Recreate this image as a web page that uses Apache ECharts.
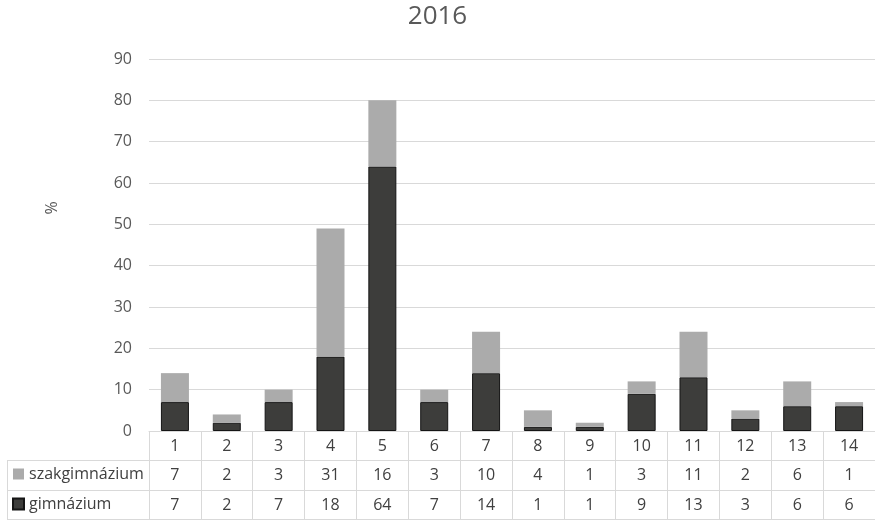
<!DOCTYPE html>
<html>
<head>
<meta charset="utf-8">
<script src="https://cdn.jsdelivr.net/npm/echarts@6/dist/echarts.min.js"></script>
<style>html,body{margin:0;padding:0;background:#fff;}#c{width:875px;height:520px;}</style>
</head>
<body>
<div id="c"></div>
<script>
var title = '2016';
var categories = ['1','2','3','4','5','6','7','8','9','10','11','12','13','14'];
var szakName = 'szakgimnázium';
var gimnName = 'gimnázium';
var szakValues = [7, 2, 3, 31, 16, 3, 10, 4, 1, 3, 11, 2, 6, 1];
var gimnValues = [7, 2, 7, 18, 64, 7, 14, 1, 1, 9, 13, 3, 6, 6];
var yTicks = {min: 0, max: 90, interval: 10};
var yName = '%';

var font = 'Open Sans';
var lineC = '#d9d9d9';
var txtC = '#404040';

var chart = echarts.init(document.getElementById('c'), null, {renderer: 'canvas'});

function tableAxis(offset, values, showLabel) {
  return {
    type: 'category', data: categories, gridIndex: 0, position: 'bottom', offset: offset,
    boundaryGap: true,
    axisLine: {show: true, lineStyle: {color: lineC, width: 1}},
    axisTick: {show: false},
    axisLabel: {show: showLabel, interval: 0, margin: 5, fontFamily: font, fontSize: 16, lineHeight: 20, color: txtC,
      formatter: function (v, i) { return values ? String(values[i]) : v; }},
    splitLine: {show: false}
  };
}

var mainX = tableAxis(0, null, true);
mainX.axisTick = {show: true, interval: 0, inside: false, length: 88, lineStyle: {color: lineC, width: 1}};

chart.setOption({
  animation: false,
  backgroundColor: '#fff',
  title: {text: title, left: 'center', top: 2, padding: 0,
    textStyle: {fontFamily: font, fontSize: 26, fontWeight: 'normal', color: '#595959', lineHeight: 30}},
  legend: {
    data: [szakName, gimnName], orient: 'vertical', left: 12, top: 466, height: 54, padding: 0,
    itemWidth: 11, itemHeight: 11, itemGap: 14, icon: 'rect',
    textStyle: {fontFamily: font, fontSize: 16, color: txtC, lineHeight: 16},
    selectedMode: false
  },
  grid: {left: 149, width: 728, top: 59, bottom: 89, containLabel: false},
  xAxis: [
    mainX,
    tableAxis(29, szakValues, true),
    tableAxis(59, gimnValues, true),
    tableAxis(88, null, false)
  ],
  yAxis: {
    type: 'value', min: yTicks.min, max: yTicks.max, interval: yTicks.interval,
    axisLine: {show: false}, axisTick: {show: false},
    axisLabel: {margin: 17, fontFamily: font, fontSize: 16, color: '#595959'},
    splitLine: {lineStyle: {color: lineC, width: 1}}
  },
  graphic: [
    {type: 'text', x: 52, y: 208, rotation: Math.PI / 2,
      style: {text: yName, font: '16px "Open Sans"', fill: '#595959', align: 'center', verticalAlign: 'middle'}},
    {type: 'line', shape: {x1: 7, y1: 460.5, x2: 149, y2: 460.5}, style: {stroke: lineC, lineWidth: 1}},
    {type: 'line', shape: {x1: 7, y1: 490.5, x2: 149, y2: 490.5}, style: {stroke: lineC, lineWidth: 1}},
    {type: 'line', shape: {x1: 7, y1: 519.5, x2: 149, y2: 519.5}, style: {stroke: lineC, lineWidth: 1}},
    {type: 'line', shape: {x1: 7.5, y1: 460, x2: 7.5, y2: 520}, style: {stroke: lineC, lineWidth: 1}}
  ],
  series: [
    {name: gimnName, type: 'bar', stack: 'a', data: gimnValues, xAxisIndex: 0, barCategoryGap: '46%',
      itemStyle: {color: '#3d3d3b', borderColor: '#151515', borderWidth: 1}},
    {name: szakName, type: 'bar', stack: 'a', data: szakValues, xAxisIndex: 0, barCategoryGap: '46%',
      itemStyle: {color: '#ababab'}}
  ]
});
</script>
</body>
</html>
